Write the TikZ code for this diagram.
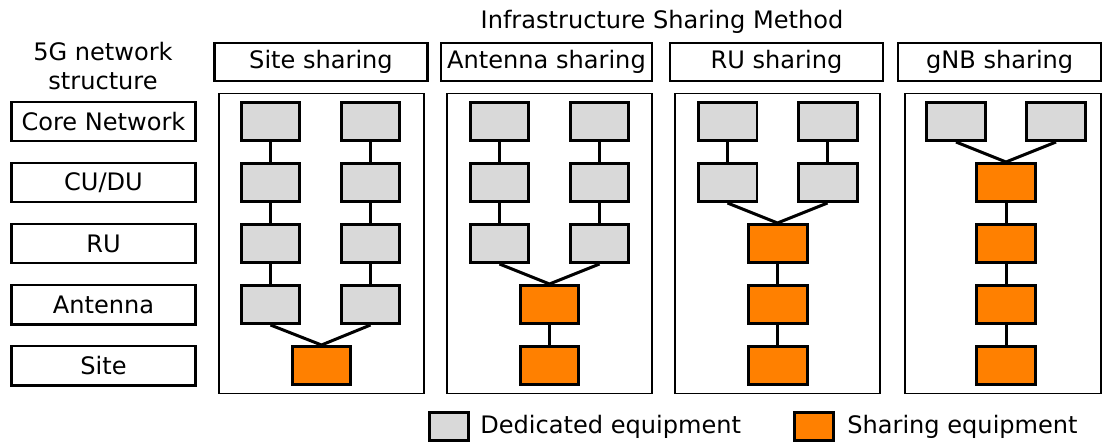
\documentclass[tikz,border=0pt]{standalone}
\usepackage{fontspec}
\setmainfont{DejaVu Sans}
\usetikzlibrary{positioning}
\definecolor{dedgray}{HTML}{D9D9D9}
\definecolor{shrorange}{HTML}{FF8000}
\tikzset{
  lbl/.style={draw, line width=0.05cm, minimum width=3.69cm, minimum height=0.79cm, inner sep=0pt},
  hdr/.style={draw, line width=0.05cm, minimum width=4.27cm, minimum height=0.77cm, inner sep=0pt},
  panel/.style={draw, line width=0.03cm, minimum width=4.11cm, minimum height=6cm, inner sep=0pt},
  ded/.style={draw, fill=dedgray, line width=0.06cm, minimum width=1.18cm, minimum height=0.76cm, inner sep=0pt},
  shr/.style={ded, fill=shrorange},
  link/.style={line width=0.06cm},
  keytext/.style={inner sep=0pt}
}
\begin{document}
\begin{tikzpicture}[x=0.02cm, y=-0.02cm, font=\fontsize{13.7}{16}\selectfont]
        \useasboundingbox (0,0) rectangle (1103,443);
        % titles
        \node (method) at (662,22) {Infrastructure Sharing Method};
        \node[align=center] (struct) at (103,66) {5G network\\structure};
        % 5G network structure
        \node[lbl] (core) at (103.5,121.5) {Core Network};
        \node[lbl] (cudu) at (103.5,182.5) {CU/DU};
        \node[lbl] (ru) at (103.5,243.5) {RU};
        \node[lbl] (ant) at (103.5,304.5) {Antenna};
        \node[lbl] (site) at (103.5,365.5) {Site};
        % sharing methods
        \node[hdr] (hsite) at (321,62) {Site sharing};
        \node[hdr, minimum width=4.22cm] (hant) at (546.5,62) {Antenna sharing};
        \node[hdr] (hru) at (776.5,62) {RU sharing};
        \node[hdr, minimum width=4.06cm] (hgnb) at (999.7,62) {gNB sharing};
        \node[panel] (psite) at (321.5,243.5) {};
        \node[panel] (pant) at (549.5,243.5) {};
        \node[panel] (pru) at (777.5,243.5) {};
        \node[panel, minimum width=3.93cm] (pgnb) at (1003,243.5) {};
        % site sharing
        \node[ded] (sl1) at (270.5,121.5) {};  \node[ded] (sr1) at (370.5,121.5) {};
        \node[ded] (sl2) at (270.5,182.5) {};  \node[ded] (sr2) at (370.5,182.5) {};
        \node[ded] (sl3) at (270.5,243.5) {};  \node[ded] (sr3) at (370.5,243.5) {};
        \node[ded] (sl4) at (270.5,304.5) {};  \node[ded] (sr4) at (370.5,304.5) {};
        \node[shr] (s5) at (321.5,365.5) {};
        \draw[link] (sl1)--(sl2)--(sl3)--(sl4)  (sr1)--(sr2)--(sr3)--(sr4);
        \draw[link] (sl4.south)--(s5.north)--(sr4.south);
        % antenna sharing
        \node[ded] (al1) at (499.5,121.5) {};  \node[ded] (ar1) at (599.5,121.5) {};
        \node[ded] (al2) at (499.5,182.5) {};  \node[ded] (ar2) at (599.5,182.5) {};
        \node[ded] (al3) at (499.5,243.5) {};  \node[ded] (ar3) at (599.5,243.5) {};
        \node[shr] (a4) at (549.5,304.5) {};
        \node[shr] (a5) at (549.5,365.5) {};
        \draw[link] (al1)--(al2)--(al3)  (ar1)--(ar2)--(ar3)  (a4)--(a5);
        \draw[link] (al3.south)--(a4.north)--(ar3.south);
        % RU sharing
        \node[ded] (rl1) at (727.5,121.5) {};  \node[ded] (rr1) at (827.5,121.5) {};
        \node[ded] (rl2) at (727.5,182.5) {};  \node[ded] (rr2) at (827.5,182.5) {};
        \node[shr] (r3) at (777.5,243.5) {};
        \node[shr] (r4) at (777.5,304.5) {};
        \node[shr] (r5) at (777.5,365.5) {};
        \draw[link] (rl1)--(rl2)  (rr1)--(rr2)  (r3)--(r4)--(r5);
        \draw[link] (rl2.south)--(r3.north)--(rr2.south);
        % gNB sharing
        \node[ded] (gl1) at (956,121.5) {};  \node[ded] (gr1) at (1056,121.5) {};
        \node[shr] (g2) at (1006,182.5) {};
        \node[shr] (g3) at (1006,243.5) {};
        \node[shr] (g4) at (1006,304.5) {};
        \node[shr] (g5) at (1006,365.5) {};
        \draw[link] (g2)--(g3)--(g4)--(g5);
        \draw[link] (gl1.south)--(g2.north)--(gr1.south);
        % legend
        \node[ded, minimum width=0.78cm, minimum height=0.56cm] (kded) at (449,426.5) {};
        \node[keytext, right=0.2cm of kded] (tded) {Dedicated equipment};
        \node[shr, minimum width=0.78cm, minimum height=0.56cm] (kshr) at (813.5,426.5) {};
        \node[keytext, right=0.25cm of kshr] (tshr) {Sharing equipment};
      \end{tikzpicture}
\end{document}
